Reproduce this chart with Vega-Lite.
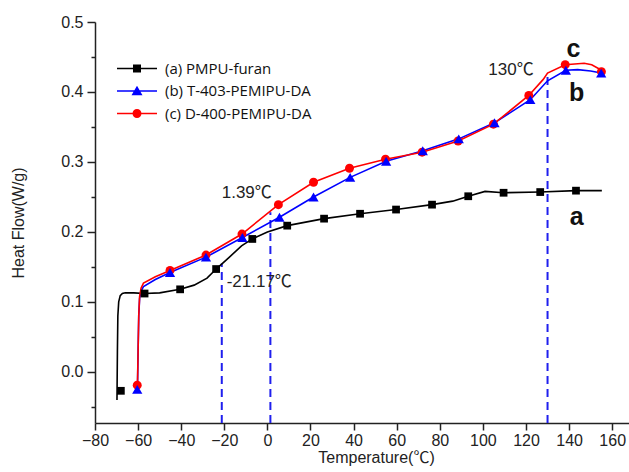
{
  "$schema": "https://vega.github.io/schema/vega-lite/v6.json",
  "autosize": "none",
  "width": 534,
  "height": 401,
  "padding": {"left": 95, "top": 22, "right": 0, "bottom": 49},
  "background": "white",
  "config": {
    "view": {"stroke": null},
    "axis": {"grid": false, "domainColor": "#222", "domainWidth": 1.5, "tickColor": "#222", "tickWidth": 1.5,
             "labelFont": "Liberation Sans", "labelFontSize": 16, "labelColor": "#222",
             "titleFont": "Liberation Sans, Noto Sans CJK SC", "titleFontSize": 16, "titleFontWeight": "normal", "titleColor": "#222"},
    "legend": {"title": null, "orient": "none", "legendX": 34.5, "legendY": 39, "padding": 0,
               "symbolSize": 100, "labelFont": "Open Sans", "labelFontSize": 15, "labelColor": "#111",
               "labelOffset": 20.5, "rowPadding": 6.5}
  },
  "resolve": {"axis": {"y": "independent"}},
  "datasets": {
    "curve": [
      {"series": "(a) PMPU-furan", "t": -69.8, "hf": -0.04},
      {"series": "(a) PMPU-furan", "t": -69.6, "hf": 0.03},
      {"series": "(a) PMPU-furan", "t": -69.4, "hf": 0.08},
      {"series": "(a) PMPU-furan", "t": -69.0, "hf": 0.1},
      {"series": "(a) PMPU-furan", "t": -68.3, "hf": 0.109},
      {"series": "(a) PMPU-furan", "t": -67.3, "hf": 0.112},
      {"series": "(a) PMPU-furan", "t": -66, "hf": 0.113},
      {"series": "(a) PMPU-furan", "t": -62, "hf": 0.113},
      {"series": "(a) PMPU-furan", "t": -57, "hf": 0.112},
      {"series": "(a) PMPU-furan", "t": -50, "hf": 0.113},
      {"series": "(a) PMPU-furan", "t": -40.5, "hf": 0.118},
      {"series": "(a) PMPU-furan", "t": -34, "hf": 0.124},
      {"series": "(a) PMPU-furan", "t": -28, "hf": 0.134},
      {"series": "(a) PMPU-furan", "t": -23.8, "hf": 0.147},
      {"series": "(a) PMPU-furan", "t": -18, "hf": 0.163},
      {"series": "(a) PMPU-furan", "t": -12, "hf": 0.18},
      {"series": "(a) PMPU-furan", "t": -7, "hf": 0.19},
      {"series": "(a) PMPU-furan", "t": 0, "hf": 0.2},
      {"series": "(a) PMPU-furan", "t": 9.2, "hf": 0.209},
      {"series": "(a) PMPU-furan", "t": 26.3, "hf": 0.219},
      {"series": "(a) PMPU-furan", "t": 43, "hf": 0.226},
      {"series": "(a) PMPU-furan", "t": 59.7, "hf": 0.232},
      {"series": "(a) PMPU-furan", "t": 76.4, "hf": 0.239},
      {"series": "(a) PMPU-furan", "t": 86, "hf": 0.244},
      {"series": "(a) PMPU-furan", "t": 93.2, "hf": 0.251},
      {"series": "(a) PMPU-furan", "t": 101, "hf": 0.258},
      {"series": "(a) PMPU-furan", "t": 109.6, "hf": 0.256},
      {"series": "(a) PMPU-furan", "t": 126.6, "hf": 0.257},
      {"series": "(a) PMPU-furan", "t": 143.2, "hf": 0.259},
      {"series": "(a) PMPU-furan", "t": 155.2, "hf": 0.259},
      {"series": "(b) T-403-PEMIPU-DA", "t": -60.3, "hf": -0.025},
      {"series": "(b) T-403-PEMIPU-DA", "t": -60.0, "hf": 0.03},
      {"series": "(b) T-403-PEMIPU-DA", "t": -59.7, "hf": 0.08},
      {"series": "(b) T-403-PEMIPU-DA", "t": -59.3, "hf": 0.105},
      {"series": "(b) T-403-PEMIPU-DA", "t": -58.6, "hf": 0.116},
      {"series": "(b) T-403-PEMIPU-DA", "t": -57.5, "hf": 0.122},
      {"series": "(b) T-403-PEMIPU-DA", "t": -52, "hf": 0.132},
      {"series": "(b) T-403-PEMIPU-DA", "t": -45.2, "hf": 0.142},
      {"series": "(b) T-403-PEMIPU-DA", "t": -28.5, "hf": 0.164},
      {"series": "(b) T-403-PEMIPU-DA", "t": -11.6, "hf": 0.192},
      {"series": "(b) T-403-PEMIPU-DA", "t": 5.6, "hf": 0.221},
      {"series": "(b) T-403-PEMIPU-DA", "t": 21.4, "hf": 0.25},
      {"series": "(b) T-403-PEMIPU-DA", "t": 38.4, "hf": 0.278},
      {"series": "(b) T-403-PEMIPU-DA", "t": 55.1, "hf": 0.301},
      {"series": "(b) T-403-PEMIPU-DA", "t": 72.1, "hf": 0.316},
      {"series": "(b) T-403-PEMIPU-DA", "t": 88.8, "hf": 0.333},
      {"series": "(b) T-403-PEMIPU-DA", "t": 105.4, "hf": 0.356},
      {"series": "(b) T-403-PEMIPU-DA", "t": 122, "hf": 0.389},
      {"series": "(b) T-403-PEMIPU-DA", "t": 130, "hf": 0.416},
      {"series": "(b) T-403-PEMIPU-DA", "t": 138.5, "hf": 0.431},
      {"series": "(b) T-403-PEMIPU-DA", "t": 144, "hf": 0.432},
      {"series": "(b) T-403-PEMIPU-DA", "t": 150, "hf": 0.43},
      {"series": "(b) T-403-PEMIPU-DA", "t": 154.9, "hf": 0.427},
      {"series": "(c) D-400-PEMIPU-DA", "t": -60.3, "hf": -0.019},
      {"series": "(c) D-400-PEMIPU-DA", "t": -60.0, "hf": 0.03},
      {"series": "(c) D-400-PEMIPU-DA", "t": -59.7, "hf": 0.08},
      {"series": "(c) D-400-PEMIPU-DA", "t": -59.3, "hf": 0.108},
      {"series": "(c) D-400-PEMIPU-DA", "t": -58.6, "hf": 0.12},
      {"series": "(c) D-400-PEMIPU-DA", "t": -57.5, "hf": 0.127},
      {"series": "(c) D-400-PEMIPU-DA", "t": -52, "hf": 0.136},
      {"series": "(c) D-400-PEMIPU-DA", "t": -45.2, "hf": 0.145},
      {"series": "(c) D-400-PEMIPU-DA", "t": -28.5, "hf": 0.167},
      {"series": "(c) D-400-PEMIPU-DA", "t": -11.8, "hf": 0.197},
      {"series": "(c) D-400-PEMIPU-DA", "t": 5.1, "hf": 0.239},
      {"series": "(c) D-400-PEMIPU-DA", "t": 21.4, "hf": 0.271},
      {"series": "(c) D-400-PEMIPU-DA", "t": 38.1, "hf": 0.291},
      {"series": "(c) D-400-PEMIPU-DA", "t": 54.8, "hf": 0.304},
      {"series": "(c) D-400-PEMIPU-DA", "t": 71.8, "hf": 0.314},
      {"series": "(c) D-400-PEMIPU-DA", "t": 88.5, "hf": 0.33},
      {"series": "(c) D-400-PEMIPU-DA", "t": 104.9, "hf": 0.354},
      {"series": "(c) D-400-PEMIPU-DA", "t": 121.3, "hf": 0.395},
      {"series": "(c) D-400-PEMIPU-DA", "t": 128, "hf": 0.418},
      {"series": "(c) D-400-PEMIPU-DA", "t": 130, "hf": 0.427},
      {"series": "(c) D-400-PEMIPU-DA", "t": 138.2, "hf": 0.439},
      {"series": "(c) D-400-PEMIPU-DA", "t": 147, "hf": 0.441},
      {"series": "(c) D-400-PEMIPU-DA", "t": 150.5, "hf": 0.439},
      {"series": "(c) D-400-PEMIPU-DA", "t": 155.1, "hf": 0.431}
    ],
    "markers": [
      {"series": "(a) PMPU-furan", "t": -68, "hf": -0.027},
      {"series": "(a) PMPU-furan", "t": -57, "hf": 0.112},
      {"series": "(a) PMPU-furan", "t": -40.5, "hf": 0.118},
      {"series": "(a) PMPU-furan", "t": -23.8, "hf": 0.147},
      {"series": "(a) PMPU-furan", "t": -7, "hf": 0.19},
      {"series": "(a) PMPU-furan", "t": 9.2, "hf": 0.209},
      {"series": "(a) PMPU-furan", "t": 26.3, "hf": 0.219},
      {"series": "(a) PMPU-furan", "t": 43, "hf": 0.226},
      {"series": "(a) PMPU-furan", "t": 59.7, "hf": 0.232},
      {"series": "(a) PMPU-furan", "t": 76.4, "hf": 0.239},
      {"series": "(a) PMPU-furan", "t": 93.2, "hf": 0.251},
      {"series": "(a) PMPU-furan", "t": 109.6, "hf": 0.256},
      {"series": "(a) PMPU-furan", "t": 126.6, "hf": 0.257},
      {"series": "(a) PMPU-furan", "t": 143.2, "hf": 0.259},
      {"series": "(c) D-400-PEMIPU-DA", "t": -60.4, "hf": -0.019},
      {"series": "(c) D-400-PEMIPU-DA", "t": -45.2, "hf": 0.145},
      {"series": "(c) D-400-PEMIPU-DA", "t": -28.5, "hf": 0.167},
      {"series": "(c) D-400-PEMIPU-DA", "t": -11.8, "hf": 0.197},
      {"series": "(c) D-400-PEMIPU-DA", "t": 5.1, "hf": 0.239},
      {"series": "(c) D-400-PEMIPU-DA", "t": 21.4, "hf": 0.271},
      {"series": "(c) D-400-PEMIPU-DA", "t": 38.1, "hf": 0.291},
      {"series": "(c) D-400-PEMIPU-DA", "t": 54.8, "hf": 0.304},
      {"series": "(c) D-400-PEMIPU-DA", "t": 71.8, "hf": 0.314},
      {"series": "(c) D-400-PEMIPU-DA", "t": 88.5, "hf": 0.33},
      {"series": "(c) D-400-PEMIPU-DA", "t": 104.9, "hf": 0.354},
      {"series": "(c) D-400-PEMIPU-DA", "t": 121.3, "hf": 0.395},
      {"series": "(c) D-400-PEMIPU-DA", "t": 138.2, "hf": 0.439},
      {"series": "(c) D-400-PEMIPU-DA", "t": 155, "hf": 0.429},
      {"series": "(b) T-403-PEMIPU-DA", "t": -60.4, "hf": -0.025},
      {"series": "(b) T-403-PEMIPU-DA", "t": -45.2, "hf": 0.142},
      {"series": "(b) T-403-PEMIPU-DA", "t": -28.5, "hf": 0.164},
      {"series": "(b) T-403-PEMIPU-DA", "t": -11.6, "hf": 0.192},
      {"series": "(b) T-403-PEMIPU-DA", "t": 5.6, "hf": 0.221},
      {"series": "(b) T-403-PEMIPU-DA", "t": 21.4, "hf": 0.25},
      {"series": "(b) T-403-PEMIPU-DA", "t": 38.4, "hf": 0.278},
      {"series": "(b) T-403-PEMIPU-DA", "t": 55.1, "hf": 0.301},
      {"series": "(b) T-403-PEMIPU-DA", "t": 72.1, "hf": 0.316},
      {"series": "(b) T-403-PEMIPU-DA", "t": 88.8, "hf": 0.333},
      {"series": "(b) T-403-PEMIPU-DA", "t": 105.4, "hf": 0.356},
      {"series": "(b) T-403-PEMIPU-DA", "t": 122, "hf": 0.389},
      {"series": "(b) T-403-PEMIPU-DA", "t": 138.5, "hf": 0.431},
      {"series": "(b) T-403-PEMIPU-DA", "t": 154.9, "hf": 0.427}
    ],
    "guides": [
      {"t": -21.17, "hf": -0.073, "hf2": 0.155},
      {"t": 1.39, "hf": -0.073, "hf2": 0.228},
      {"t": 130, "hf": -0.073, "hf2": 0.427}
    ],
    "notes": [
      {"t": -21.2, "hf": 0.256, "label": "1.39℃"},
      {"t": -18.9, "hf": 0.1286, "label": "-21.17℃"},
      {"t": 102.5, "hf": 0.431, "label": "130℃"}
    ],
    "letters": [
      {"t": 142.0, "hf": 0.462, "label": "c"},
      {"t": 143.5, "hf": 0.398, "label": "b"},
      {"t": 143.5, "hf": 0.221, "label": "a"}
    ]
  },
  "layer": [
    {
      "data": {"name": "guides"},
      "mark": {"type": "rule", "color": "#1f1fee", "strokeWidth": 2, "strokeDash": [8, 5]},
      "encoding": {
        "x": {"field": "t", "type": "quantitative", "title": "Temperature(℃)"},
        "y": {"field": "hf", "type": "quantitative", "axis": null},
        "y2": {"field": "hf2"}
      }
    },
    {
      "data": {"name": "curve"},
      "mark": {"type": "line", "strokeWidth": 1.6},
      "encoding": {
        "x": {"field": "t", "type": "quantitative", "title": "Temperature(℃)",
              "scale": {"domain": [-80, 167.8], "nice": false, "zero": false},
              "axis": {"values": [-80, -60, -40, -20, 0, 20, 40, 60, 80, 100, 120, 140, 160],
                       "tickSize": 7, "labelPadding": 2, "labelFlush": false, "labelOverlap": false,
                       "titlePadding": 1, "titleX": 281}},
        "y": {"field": "hf", "type": "quantitative", "title": "Heat Flow(W/g)",
              "scale": {"domain": [-0.073, 0.5], "nice": false, "zero": false},
              "axis": {"orient": "left", "values": [0, 0.1, 0.2, 0.3, 0.4, 0.5], "format": ".1f",
                       "tickSize": 8, "labelPadding": 4, "labelFlush": false, "labelOverlap": false, "titlePadding": 34}},
        "color": {"field": "series", "type": "nominal",
                  "scale": {"domain": ["(a) PMPU-furan", "(b) T-403-PEMIPU-DA", "(c) D-400-PEMIPU-DA"], "range": ["#000000", "#0000ff", "#ff0000"]},
                  "legend": {"encode": {"symbols": {"update": {
                               "shape": {"signal": "datum.value === '(a) PMPU-furan' ? 'M-4,-0.16H4V0.16H-4ZM-0.8,-0.8H0.8V0.8H-0.8Z' : datum.value === '(b) T-403-PEMIPU-DA' ? 'M-4,-0.16H4V0.16H-4ZM0,-1.05L1.1,0.85H-1.1Z' : 'M-4,-0.16H4V0.16H-4ZM-0.9,0A0.9,0.9,0,1,1,0.9,0A0.9,0.9,0,1,1,-0.9,0Z'"},
                               "size": {"value": 100},
                               "fill": {"scale": "color", "field": "value"},
                               "fillOpacity": {"value": 1},
                               "strokeWidth": {"value": 0},
                               "opacity": {"value": 1}
                             }}}}}
      }
    },
    {
      "data": {"name": "markers"},
      "transform": [{"filter": "datum.series === '(a) PMPU-furan'"}],
      "mark": {"type": "point", "filled": true, "opacity": 1, "shape": "square", "size": 60},
      "encoding": {
        "x": {"field": "t", "type": "quantitative", "title": "Temperature(℃)"},
        "y": {"field": "hf", "type": "quantitative",
              "axis": {"orient": "left", "values": [-0.05, 0.05, 0.15, 0.25, 0.35, 0.45], "labels": false, "domain": false,
                       "tickSize": 4, "title": null}},
        "color": {"field": "series", "type": "nominal"}
      }
    },
    {
      "data": {"name": "markers"},
      "transform": [{"filter": "datum.series === '(c) D-400-PEMIPU-DA'"}],
      "mark": {"type": "point", "filled": true, "opacity": 1, "shape": "circle", "size": 80},
      "encoding": {
        "x": {"field": "t", "type": "quantitative", "title": "Temperature(℃)"},
        "y": {"field": "hf", "type": "quantitative", "axis": null},
        "color": {"field": "series", "type": "nominal"}
      }
    },
    {
      "data": {"name": "markers"},
      "transform": [{"filter": "datum.series === '(b) T-403-PEMIPU-DA'"}],
      "mark": {"type": "point", "filled": true, "opacity": 1, "shape": "triangle-up", "size": 105},
      "encoding": {
        "x": {"field": "t", "type": "quantitative", "title": "Temperature(℃)"},
        "y": {"field": "hf", "type": "quantitative", "axis": null},
        "color": {"field": "series", "type": "nominal"}
      }
    },
    {
      "data": {"name": "notes"},
      "mark": {"type": "text", "font": "Liberation Sans, Noto Sans CJK SC", "fontSize": 17, "color": "#222", "baseline": "middle", "align": "left"},
      "encoding": {
        "x": {"field": "t", "type": "quantitative"},
        "y": {"field": "hf", "type": "quantitative", "axis": null},
        "text": {"field": "label"}
      }
    },
    {
      "data": {"name": "letters"},
      "mark": {"type": "text", "font": "Liberation Sans", "fontSize": 25, "fontWeight": "bold", "color": "#111", "baseline": "middle", "align": "center"},
      "encoding": {
        "x": {"field": "t", "type": "quantitative"},
        "y": {"field": "hf", "type": "quantitative", "axis": null},
        "text": {"field": "label"}
      }
    },
    {
      "mark": {"type": "rule", "color": "#222", "strokeWidth": 1.5},
      "encoding": {"y": {"datum": 0.5, "axis": null}}
    }
  ]
}
